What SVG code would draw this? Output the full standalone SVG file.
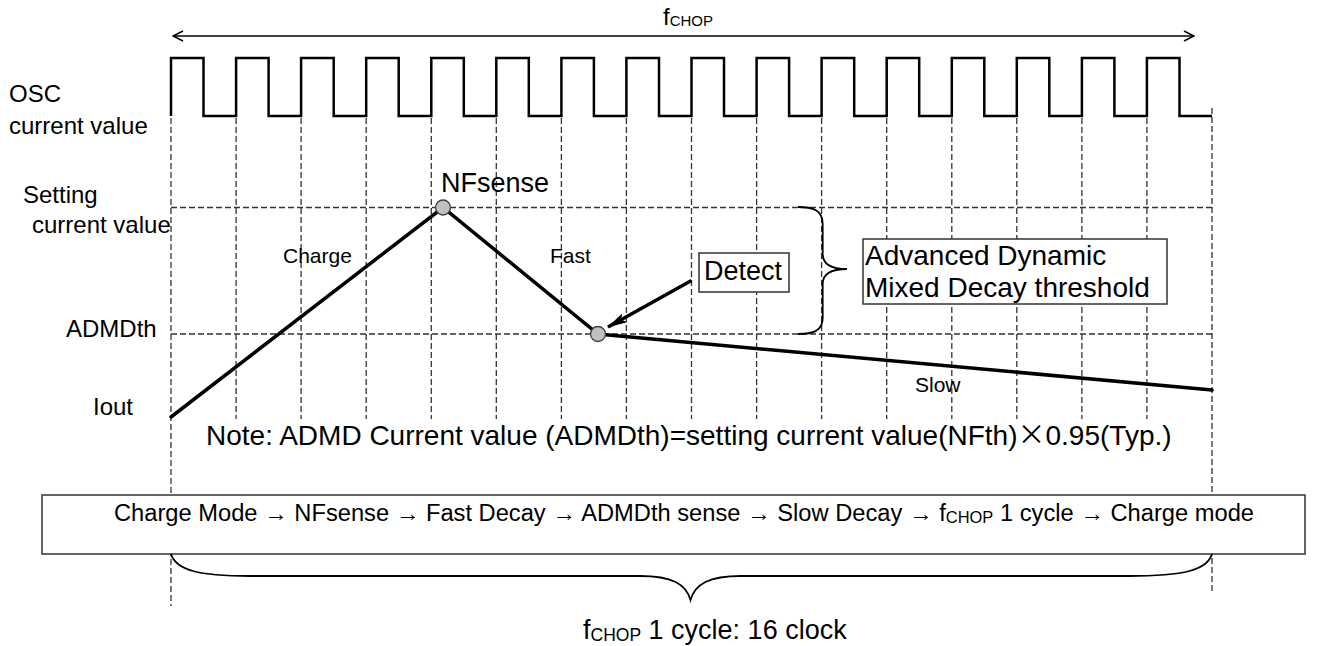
<svg xmlns="http://www.w3.org/2000/svg" width="1344" height="646" viewBox="0 0 1344 646">
<style>
text{font-family:"Liberation Sans",Arial,sans-serif;fill:#000}
.grid{stroke:#333;stroke-width:1.3;stroke-dasharray:6 3;fill:none}
.thick{stroke:#000;stroke-width:3.5;fill:none;stroke-linecap:round}
.pt{fill:#c0c0c0;stroke:#404040;stroke-width:1.3}
.box{fill:#fff;stroke:#333;stroke-width:1.5}
.lbl{font-size:24px}
.small{font-size:21px}
.big{font-size:27px}
.brace{fill:none;stroke:#000;stroke-width:1.8}
.cjk{font-family:"Noto Sans CJK JP","Liberation Sans",sans-serif}
</style>
<defs>
<marker id="open" viewBox="0 0 12 12" refX="11" refY="6" markerWidth="12" markerHeight="12" markerUnits="userSpaceOnUse" orient="auto-start-reverse">
<path d="M1,1 L11,6 L1,11" fill="none" stroke="#000" stroke-width="1.5"/>
</marker>
<marker id="solid" viewBox="0 0 20 12" refX="19" refY="6" markerWidth="20" markerHeight="12" markerUnits="userSpaceOnUse" orient="auto">
<path d="M0,1 L20,6 L0,11 L4,6 Z" fill="#000"/>
</marker>
</defs>

<g id="grid">
<path class="grid" d="M171,118 V606 M1212,108 V592 M236.1,118 V419 M301.1,118 V419 M366.2,118 V419 M431.3,118 V419 M496.3,118 V419 M561.4,118 V419 M626.4,118 V419 M691.5,118 V419 M756.6,118 V419 M821.6,118 V419 M886.7,118 V419 M951.8,118 V419 M1016.8,118 V419 M1081.9,118 V419 M1146.9,118 V419"/>
<path class="grid" d="M171,207.5 H1212 M171,334 H1212"/>
</g>

<g id="osc-wave">
<path d="M171,116 V58 H203.5 V116 H236.1 V58 H268.6 V116 H301.1 V58 H333.7 V116 H366.2 V58 H398.7 V116 H431.3 V58 H463.8 V116 H496.3 V58 H528.8 V116 H561.4 V58 H593.9 V116 H626.4 V58 H659 V116 H691.5 V58 H724 V116 H756.6 V58 H789.1 V116 H821.6 V58 H854.2 V116 H886.7 V58 H919.2 V116 H951.8 V58 H984.3 V116 H1016.8 V58 H1049.3 V116 H1081.9 V58 H1114.4 V116 H1146.9 V58 H1179.5 V116 H1212" fill="none" stroke="#000" stroke-width="2.5"/>
</g>

<g id="fchop-top">
<line x1="173" y1="36" x2="1194" y2="36" stroke="#000" stroke-width="1.5" marker-start="url(#open)" marker-end="url(#open)"/>
<text x="663" y="25" font-size="24">f<tspan font-size="15" dy="1">CHOP</tspan></text>
</g>

<g id="labels-left">
<text class="lbl" x="9" y="102">OSC</text>
<text class="lbl" x="9" y="134">current value</text>
<text class="lbl" x="23" y="203">Setting</text>
<text class="lbl" x="32" y="233">current value</text>
<text class="lbl" x="66" y="337">ADMDth</text>
<text class="lbl" x="93" y="415">Iout</text>
</g>

<g id="connectors">
<path class="thick" d="M171,417 L443,207.5 L598,334 L1212,390"/>
<line x1="691.5" y1="280.5" x2="608" y2="327" stroke="#000" stroke-width="3.5" marker-end="url(#solid)"/>
</g>

<g id="phase-labels">
<text class="small" x="283" y="263">Charge</text>
<text class="small" x="550" y="263">Fast</text>
<text class="small" x="915" y="392">Slow</text>
</g>

<g id="nfsense">
<circle class="pt" cx="443" cy="207.5" r="7.5"/>
<text class="big" x="441" y="192">NFsense</text>
</g>

<g id="admdth-point">
<circle class="pt" cx="598" cy="334" r="7.5"/>
</g>

<g id="detect">
<rect class="box" x="699" y="253" width="90" height="39" stroke-width="1.3"/>
<text class="big" x="704" y="280">Detect</text>
</g>

<g id="admd-brace">
<path class="brace" d="M798,207 C813,207 822.7,210 822.7,224 L822.7,254 C822.7,264 831,269 847,269 C831,269 822.7,274 822.7,284 L822.7,318 C822.7,331 813,334 798,334"/>
</g>

<g id="admd-box">
<rect class="box" x="863" y="239" width="304" height="65" stroke-width="1.3"/>
<text x="865" y="265" font-size="28">Advanced Dynamic</text>
<text x="865" y="297" font-size="28">Mixed Decay threshold</text>
</g>

<g id="note">
<text x="206" y="445" font-size="28">Note: ADMD Current value (ADMDth)=setting current value(NFth)<tspan class="cjk">×</tspan>0.95(Typ.)</text>
</g>

<g id="sequence">
<rect class="box" x="42" y="495" width="1263" height="59"/>
<text x="114" y="521" font-size="23" textLength="1140" lengthAdjust="spacingAndGlyphs">Charge Mode → NFsense → Fast Decay → ADMDth sense → Slow Decay → f<tspan font-size="16" dy="2">CHOP</tspan><tspan dy="-2"> 1 cycle → Charge mode</tspan></text>
</g>

<g id="cycle-brace">
<path class="brace" d="M171,554 C176,570 198,576 250,576 L640,576 C672,576 686,584 690.5,600 C695,584 709,576 741,576 L1128,576 C1185,576 1207,570 1212,554"/>
<text x="583" y="639" font-size="27">f<tspan font-size="17.5" dy="2">CHOP</tspan><tspan dy="-2"> 1 cycle: 16 clock</tspan></text>
</g>
</svg>
